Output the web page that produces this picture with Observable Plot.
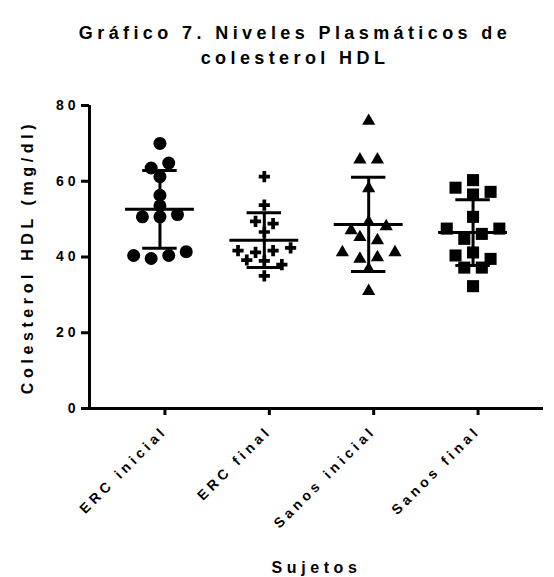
<!DOCTYPE html>
<html>
<head>
<meta charset="utf-8">
<script src="https://cdn.jsdelivr.net/npm/d3@7"></script>
<script src="https://cdn.jsdelivr.net/npm/@observablehq/plot@0.6"></script>
<style>
  body { margin: 0; background: #fff; }
  #titulo {
    box-sizing: border-box;
    width: 554px; height: 78px;
    padding: 21px 0 0 36px;
    text-align: center;
    font-family: "Liberation Sans", Arial, sans-serif;
    font-weight: bold; font-size: 18px; line-height: 25px;
    letter-spacing: 4.4px; color: #000;
  }
  #grafico g[aria-label="x-axis tick label"] text { letter-spacing: 4px; }
  #grafico g[aria-label="y-axis tick label"] text { letter-spacing: 4px; }
  #grafico g[aria-label="text"] text { letter-spacing: 4.6px; }
</style>
</head>
<body>
<div id="titulo">Gráfico 7. Niveles Plasmáticos de<br>colesterol HDL</div>
<div id="grafico"></div>
<script>
// Grupos del eje X
const grupos = ["ERC inicial", "ERC final", "Sanos inicial", "Sanos final"];
const simbolos = ["circle", "cross", "triangle", "square"];

// Colesterol HDL (mg/dl) por sujeto
const ercInicial = [70, 63.5, 64.8, 61.2, 56.3, 53.5, 50.6, 50.6, 51.2, 40.4, 39.6, 40.4, 41.4];
const ercFinal = [61.2, 53.7, 49.4, 48.8, 46.6, 41.7, 41.2, 41.7, 42.4, 39.2, 39, 38, 35];
const sanosInicial = [75.9, 65.7, 65.7, 58.1, 47, 49.2, 48.1, 45.2, 44.4, 41.2, 39.5, 39.9, 41.2, 36.8, 31];
const sanosFinal = [58.3, 56.5, 57.2, 60.3, 50.6, 47.5, 44.8, 46.1, 47.5, 40.4, 41.2, 39.5, 37.2, 37.2, 32.3];

// Ticks del eje Y
const ticksY = [0, 20, 40, 60, 80];

const series = [ercInicial, ercFinal, sanosInicial, sanosFinal];

// Agrupa en filas los valores consecutivos (ordenados) que distan poco entre sí
// y las reparte simétricamente alrededor del centro de la columna
function desplazamientos(valores, salto, separacion) {
  const orden = d3.range(valores.length).sort((a, b) => valores[a] - valores[b]);
  const off = new Array(valores.length);
  let i = 0;
  while (i < orden.length) {
    let j = i + 1;
    while (j < orden.length && valores[orden[j]] - valores[orden[j - 1]] <= salto) j++;
    const fila = orden.slice(i, j).sort((a, b) => a - b);
    const n = fila.length;
    fila.forEach((k, m) => off[k] = (m - (n - 1) / 2) * separacion);
    i = j;
  }
  return off;
}

const puntos = series.map((valores, gi) => {
  const off = desplazamientos(valores, 1.7, 0.168);
  return valores.map((v, k) => ({gi, valor: v, x: gi + off[k]}));
});

// Media ± desviación estándar de cada grupo
const resumen = series.map((valores, gi) => {
  const m = d3.mean(valores), s = d3.deviation(valores);
  return {gi, media: m, inf: m - s, sup: m + s};
});

const radios = [6.5, 4.7, 4.9, 6.8];
const fuente = "Liberation Sans, Arial, sans-serif";

const chart = Plot.plot({
  width: 554,
  height: 499,
  marginTop: 27,
  marginBottom: 169,
  marginLeft: 89,
  marginRight: 11,
  x: {domain: [-0.675, 3.675]},
  y: {domain: [0, 80]},
  style: {fontFamily: fuente, fontWeight: "bold", color: "#000", background: "#fff", overflow: "visible"},
  marks: [
    Plot.axisY({ticks: ticksY, tickSize: 8, tickPadding: 2, strokeWidth: 3, fontSize: 14, fontWeight: "bold", label: null}),
    Plot.axisX({ticks: d3.range(grupos.length), tickFormat: i => grupos[i], tickRotate: -45,
      tickSize: 7, tickPadding: 13, dx: 5, strokeWidth: 3, fontSize: 14, fontWeight: "bold", label: null}),
    Plot.ruleX([-0.675], {strokeWidth: 3}),
    Plot.ruleY([0], {strokeWidth: 3}),
    ...puntos.map((pts, gi) => Plot.dot(pts, {
      x: "x", y: "valor", symbol: () => simbolos[gi], r: radios[gi], fill: "#000", stroke: "none"
    })),
    Plot.ruleX(resumen, {x: "gi", y1: "inf", y2: "sup", strokeWidth: 3}),
    Plot.ruleY(resumen, {y: "media", x1: d => d.gi - 0.33, x2: d => d.gi + 0.33, strokeWidth: 3}),
    Plot.ruleY(resumen, {y: "sup", x1: d => d.gi - 0.165, x2: d => d.gi + 0.165, strokeWidth: 3}),
    Plot.ruleY(resumen, {y: "inf", x1: d => d.gi - 0.165, x2: d => d.gi + 0.165, strokeWidth: 3}),
    Plot.text(["Colesterol HDL (mg/dl)"], {text: d => d, frameAnchor: "left", textAnchor: "middle",
      lineAnchor: "middle", rotate: -90, dx: -62, fontSize: 16, fontWeight: "bold"}),
    Plot.text(["Sujetos"], {text: d => d, frameAnchor: "bottom", textAnchor: "middle", lineAnchor: "middle",
      dy: 159, fontSize: 16, fontWeight: "bold"})
  ]
});

document.getElementById("grafico").appendChild(chart);
</script>
</body>
</html>
